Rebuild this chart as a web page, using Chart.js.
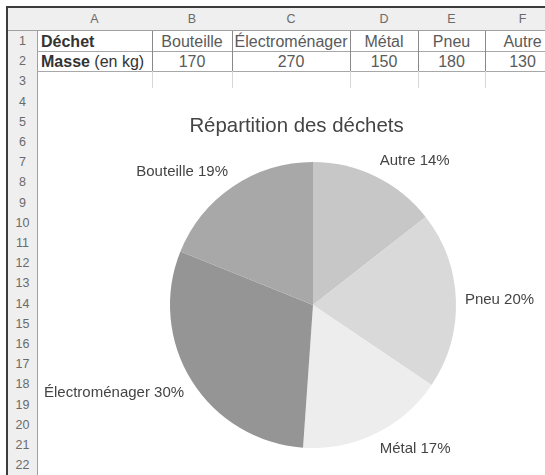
<!DOCTYPE html>
<html><head><meta charset="utf-8">
<script src="https://cdn.jsdelivr.net/npm/chart.js@4.4.1/dist/chart.umd.min.js"></script>
<style>
html,body{margin:0;padding:0;background:#fff;overflow:hidden;width:545px;height:475px;}
#sheet{position:absolute;left:0;top:0;width:545px;height:475px;font-family:"Liberation Sans",Arial,sans-serif;}
.c{position:absolute;box-sizing:border-box;white-space:nowrap;overflow:hidden;}
.hdr{background:#efefef;color:#6a6a6a;font-size:12.5px;text-align:center;}
#chart{position:absolute;left:38px;top:88px;background:#fff;}
</style></head>
<body>
<div id="sheet"></div>
<canvas id="chart" width="517" height="400"></canvas>
<script>
// ---- data ----
const headerLabel = 'Déchet';
const valueLabelBold = 'Masse';
const valueLabelRest = ' (en kg)';
const categories = ['Bouteille', 'Électroménager', 'Métal', 'Pneu', 'Autre'];
const masses = [170, 270, 150, 180, 130];
const sliceColors = ['#a8a8a8', '#959595', '#ededed', '#d9d9d9', '#c7c7c7'];
const chartTitle = 'Répartition des déchets';
const columnLetters = ['A', 'B', 'C', 'D', 'E', 'F'];

// ---- spreadsheet grid ----
const sheet = document.getElementById('sheet');
const colEdges = [37, 152, 232, 350, 418, 485, 560];
const rowTop = i => 31 + 20.2 * i; // top of row i+1
function cell(x, y, w, h, html, style) {
  const d = document.createElement('div');
  d.className = 'c';
  d.style.left = x + 'px'; d.style.top = y + 'px';
  d.style.width = w + 'px'; d.style.height = h + 'px';
  d.style.lineHeight = h + 'px';
  Object.assign(d.style, style || {});
  d.innerHTML = html;
  sheet.appendChild(d);
  return d;
}
// outer dark frame
cell(6, 6, 545, 2, '', {background:'#3c3c3c'});
cell(6, 6, 2, 475, '', {background:'#3c3c3c'});
// corner
cell(8, 8, 30, 23, '', {background:'#efefef', borderRight:'1px solid #a0a0a0', borderBottom:'1px solid #a0a0a0'});
// column headers
for (let i = 0; i < columnLetters.length; i++) {
  const d = cell(colEdges[i], 8, colEdges[i+1] - colEdges[i] + 1, 23, columnLetters[i],
    {borderRight:'1px solid #a0a0a0', borderBottom:'1px solid #a0a0a0'});
  d.classList.add('hdr');
}
// row headers
for (let r = 0; r < 23; r++) {
  const d = cell(8, rowTop(r), 30, 20.2 + 1, String(r + 1),
    {borderRight:'1px solid #a0a0a0', borderBottom:'1px solid #a0a0a0'});
  d.classList.add('hdr');
}
// data rows 1-3
for (let row = 0; row < 3; row++) {
  for (let i = 0; i < columnLetters.length; i++) {
    let html = '';
    let st = {borderRight: row < 2 ? '1px solid #8a8a8a' : '1px solid #d6d6d6',
              borderBottom: row < 2 ? '1px solid #a8a8a8' : 'none', fontSize:'16px', color:'#5a5a5a', textAlign:'center'};
    if (row === 0) html = i === 0 ? '<b>' + headerLabel + '</b>' : categories[i - 1];
    if (row === 1) html = i === 0 ? '<b>' + valueLabelBold + '</b>' + valueLabelRest : String(masses[i - 1]);
    if (i === 0) { st.textAlign = 'left'; st.paddingLeft = '4px'; st.color = '#333'; }
    cell(colEdges[i], rowTop(row), colEdges[i+1] - colEdges[i] + 1, 20.2 + 1, html, st);
  }
}

// ---- chart ----
const chartLabels = categories.slice().reverse();
const chartValues = masses.slice().reverse();
const chartColors = sliceColors.slice().reverse();
const total = masses.reduce((a, b) => a + b, 0);

const labelPlugin = {
  id: 'sliceLabels',
  afterDatasetsDraw(chart) {
    const ctx = chart.ctx;
    const meta = chart.getDatasetMeta(0);
    ctx.save();
    ctx.font = '15px "Liberation Sans", Arial, sans-serif';
    ctx.fillStyle = '#444';
    meta.data.forEach((arc, i) => {
      const p = arc.getProps(['x', 'y', 'startAngle', 'endAngle', 'outerRadius'], true);
      const mid = (p.startAngle + p.endAngle) / 2;
      const rr = p.outerRadius + 9;
      const px = p.x + rr * Math.cos(mid);
      const py = p.y + rr * Math.sin(mid);
      const c = Math.cos(mid), s = Math.sin(mid);
      ctx.textAlign = c > 0.2 ? 'left' : (c < -0.2 ? 'right' : 'center');
      ctx.textBaseline = s > 0.2 ? 'top' : (s < -0.2 ? 'bottom' : 'middle');
      const pct = Math.round(chartValues[i] / total * 100);
      ctx.fillText(chartLabels[i] + ' ' + pct + '%', px, py);
    });
    // chart title, centred on the whole chart object
    ctx.font = '20.4px "Liberation Sans", Arial, sans-serif';
    ctx.textAlign = 'center';
    ctx.textBaseline = 'middle';
    ctx.fillText(chartTitle, chart.width / 2, 38);
    ctx.restore();
  }
};

new Chart(document.getElementById('chart'), {
  type: 'pie',
  data: {
    labels: chartLabels,
    datasets: [{ data: chartValues, backgroundColor: chartColors, borderWidth: 0, hoverOffset: 0 }]
  },
  options: {
    responsive: false,
    animation: false,
    layout: { padding: { left: 60, right: 27, top: 74, bottom: 40 } },
    plugins: {
      legend: { display: false },
      tooltip: { enabled: false },
      title: { display: false }
    }
  },
  plugins: [labelPlugin]
});
</script>
</body></html>
